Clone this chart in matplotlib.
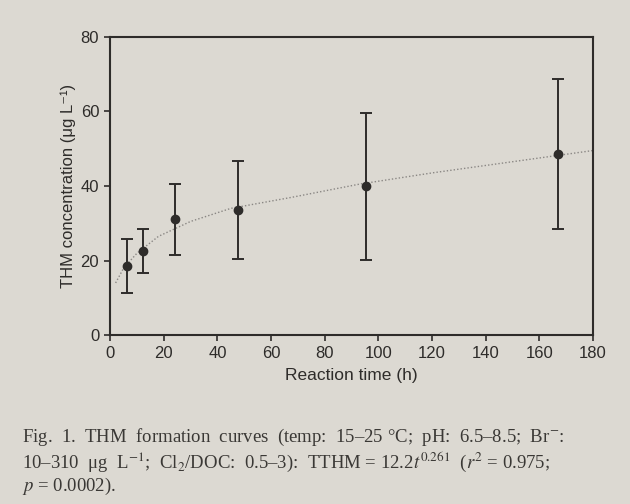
import matplotlib
matplotlib.use("Agg")
from matplotlib import pyplot as plt

# measured THM concentration (mean, with error bar ends)
time_h = [6.2, 12.4, 24.2, 47.8, 95.3, 167.0]
thm_mean = [18.5, 22.6, 31.1, 33.6, 40.0, 48.5]
thm_high = [25.7, 28.5, 40.6, 46.6, 59.5, 68.7]
thm_low = [11.4, 16.7, 21.4, 20.5, 20.1, 28.4]

# points
fit_t = [2, 5, 10, 18, 30, 45, 68, 93, 120, 150, 180]
fit_y = [14.0, 18.0, 22.0, 26.5, 30.5, 34.0, 37.0, 40.5, 43.5, 46.5, 49.5]

x_ticks = [0, 20, 40, 60, 80, 100, 120, 140, 160, 180]
y_ticks = [0, 20, 40, 60, 80]

caption_lines = [
    "Fig.  1.  THM  formation  curves  (temp:  15–25 °C;  pH:  6.5–8.5;  Br$^{-}$:",
    "10–310  μg  L$^{-1}$;  Cl$_2$/DOC:  0.5–3):  TTHM = 12.2$t^{0.261}$  ($r^2$ = 0.975;",
    "$p$ = 0.0002).",
]

bg = "#dcd9d2"
ink = "#2e2c2a"
sans = ["Liberation Sans", "DejaVu Sans"]

plt.rcParams["mathtext.fontset"] = "stix"

fig = plt.figure(figsize=(6.3, 5.04), dpi=100, facecolor=bg)
ax = fig.add_axes([0.175, 0.335, 0.766, 0.592])
ax.set_facecolor(bg)

ax.plot(fit_t, fit_y, color="#8a8784", lw=1.0, ls=(0, (1, 1.5)))

err_lo = [m - l for m, l in zip(thm_mean, thm_low)]
err_hi = [h - m for m, h in zip(thm_mean, thm_high)]
ax.errorbar(time_h, thm_mean, yerr=[err_lo, err_hi], fmt="o", color=ink,
            ms=6, elinewidth=1.4, capsize=4.5, capthick=1.4)

ax.set_xlim(0, 180)
ax.set_ylim(0, 80)
ax.set_xticks(x_ticks)
ax.set_yticks(y_ticks)
for s in ax.spines.values():
    s.set_color(ink)
    s.set_linewidth(1.5)
ax.tick_params(direction="out", length=4, width=1.2, color=ink, labelcolor=ink,
               labelsize=12, pad=4)
for lab in ax.get_xticklabels() + ax.get_yticklabels():
    lab.set_family(sans)

ax.set_xlabel("Reaction time (h)", family=sans, fontsize=12.5, color=ink, labelpad=5)
ax.set_ylabel("THM concentration (μg L⁻¹)", family=sans, fontsize=12, color=ink,
              labelpad=3)

fig.text(0.035, 1 - 427 / 504, "\n".join(caption_lines),
         family=["Liberation Serif", "DejaVu Serif"], fontsize=13.5, color="#3a3835",
         ha="left", va="top", linespacing=1.08)

fig.savefig("out.png", dpi=100, facecolor=bg)
